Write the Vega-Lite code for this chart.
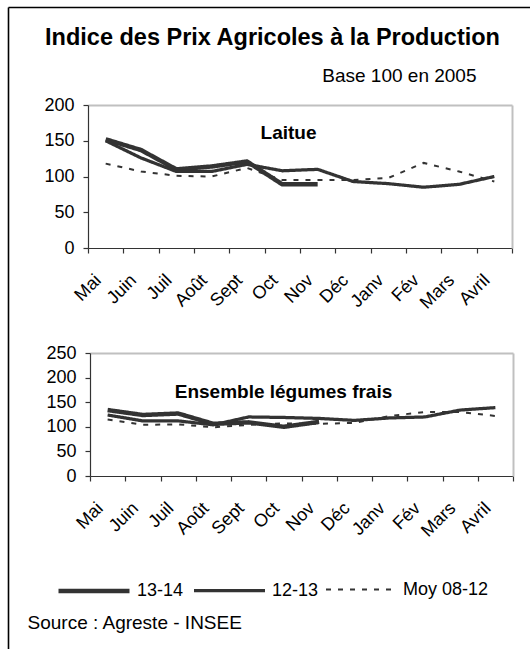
{
  "$schema": "https://vega.github.io/schema/vega-lite/v6.json",
  "width": 530,
  "height": 649,
  "padding": 0,
  "autosize": "none",
  "background": "white",
  "config": {
    "view": {"stroke": null},
    "font": "Liberation Sans",
    "axis": {"grid": false, "labelFont": "Liberation Sans", "titleFont": "Liberation Sans", "labelColor": "#000", "titleColor": "#000", "domainColor": "#333", "tickColor": "#333", "domainWidth": 1.2, "tickWidth": 1.2},
    "legend": {"labelFont": "Liberation Sans", "labelFontSize": 18, "labelColor": "#000"}
  },
  "datasets": {
    "laitue": [
      {"m": "Mai", "s": "13-14", "v": 152}, {"m": "Juin", "s": "13-14", "v": 137}, {"m": "Juil", "s": "13-14", "v": 110}, {"m": "Août", "s": "13-14", "v": 114}, {"m": "Sept", "s": "13-14", "v": 121}, {"m": "Oct", "s": "13-14", "v": 89}, {"m": "Nov", "s": "13-14", "v": 89},
      {"m": "Mai", "s": "12-13", "v": 150}, {"m": "Juin", "s": "12-13", "v": 126}, {"m": "Juil", "s": "12-13", "v": 107}, {"m": "Août", "s": "12-13", "v": 107}, {"m": "Sept", "s": "12-13", "v": 117}, {"m": "Oct", "s": "12-13", "v": 108}, {"m": "Nov", "s": "12-13", "v": 110}, {"m": "Déc", "s": "12-13", "v": 93}, {"m": "Janv", "s": "12-13", "v": 90}, {"m": "Fév", "s": "12-13", "v": 85}, {"m": "Mars", "s": "12-13", "v": 89}, {"m": "Avril", "s": "12-13", "v": 100},
      {"m": "Mai", "s": "Moy 08-12", "v": 118}, {"m": "Juin", "s": "Moy 08-12", "v": 107}, {"m": "Juil", "s": "Moy 08-12", "v": 101}, {"m": "Août", "s": "Moy 08-12", "v": 100}, {"m": "Sept", "s": "Moy 08-12", "v": 112}, {"m": "Oct", "s": "Moy 08-12", "v": 95}, {"m": "Nov", "s": "Moy 08-12", "v": 95}, {"m": "Déc", "s": "Moy 08-12", "v": 95}, {"m": "Janv", "s": "Moy 08-12", "v": 98}, {"m": "Fév", "s": "Moy 08-12", "v": 119}, {"m": "Mars", "s": "Moy 08-12", "v": 107}, {"m": "Avril", "s": "Moy 08-12", "v": 93}
    ],
    "legumes": [
      {"m": "Mai", "s": "13-14", "v": 134}, {"m": "Juin", "s": "13-14", "v": 124}, {"m": "Juil", "s": "13-14", "v": 127}, {"m": "Août", "s": "13-14", "v": 106}, {"m": "Sept", "s": "13-14", "v": 109}, {"m": "Oct", "s": "13-14", "v": 100}, {"m": "Nov", "s": "13-14", "v": 110},
      {"m": "Mai", "s": "12-13", "v": 124}, {"m": "Juin", "s": "12-13", "v": 112}, {"m": "Juil", "s": "12-13", "v": 112}, {"m": "Août", "s": "12-13", "v": 104}, {"m": "Sept", "s": "12-13", "v": 120}, {"m": "Oct", "s": "12-13", "v": 119}, {"m": "Nov", "s": "12-13", "v": 117}, {"m": "Déc", "s": "12-13", "v": 113}, {"m": "Janv", "s": "12-13", "v": 118}, {"m": "Fév", "s": "12-13", "v": 120}, {"m": "Mars", "s": "12-13", "v": 134}, {"m": "Avril", "s": "12-13", "v": 139},
      {"m": "Mai", "s": "Moy 08-12", "v": 115}, {"m": "Juin", "s": "Moy 08-12", "v": 104}, {"m": "Juil", "s": "Moy 08-12", "v": 105}, {"m": "Août", "s": "Moy 08-12", "v": 99}, {"m": "Sept", "s": "Moy 08-12", "v": 104}, {"m": "Oct", "s": "Moy 08-12", "v": 107}, {"m": "Nov", "s": "Moy 08-12", "v": 106}, {"m": "Déc", "s": "Moy 08-12", "v": 108}, {"m": "Janv", "s": "Moy 08-12", "v": 122}, {"m": "Fév", "s": "Moy 08-12", "v": 130}, {"m": "Mars", "s": "Moy 08-12", "v": 130}, {"m": "Avril", "s": "Moy 08-12", "v": 122}
    ]
  },
  "resolve": {
    "scale": {"x": "independent", "y": "independent", "strokeWidth": "shared", "strokeDash": "shared"},
    "axis": {"x": "independent", "y": "independent"}
  },
  "layer": [
    {
      "data": {"name": "laitue"},
      "mark": {"type": "line", "opacity": 0},
      "encoding": {
        "x": {"field": "m", "type": "nominal", "sort": ["Mai", "Juin", "Juil", "Août", "Sept", "Oct", "Nov", "Déc", "Janv", "Fév", "Mars", "Avril"],
          "scale": {"type": "band", "paddingInner": 0, "paddingOuter": 0, "range": [8, 531]},
          "axis": {"orient": "top", "offset": -7, "labels": false, "ticks": false, "domainColor": "#000", "domainWidth": 1.6,
            "title": "Indice des Prix Agricoles à la Production", "titleX": 272, "titleY": 30, "titleAlign": "center", "titleBaseline": "middle", "titleFontSize": 23.5, "titleFontWeight": "bold"}},
        "y": {"field": "v", "type": "quantitative",
          "scale": {"domain": [0, 200], "nice": false, "range": [650, 7]},
          "axis": {"orient": "left", "offset": -8, "labels": false, "ticks": false, "domainColor": "#000", "domainWidth": 1.6, "title": null}}
      }
    },
    {
      "data": {"name": "laitue"},
      "mark": {"type": "line", "color": "#333333"},
      "encoding": {
        "x": {"field": "m", "type": "nominal", "sort": ["Mai", "Juin", "Juil", "Août", "Sept", "Oct", "Nov", "Déc", "Janv", "Fév", "Mars", "Avril"],
          "scale": {"type": "band", "paddingInner": 0, "paddingOuter": 0, "range": [88, 512]},
          "axis": {"orient": "bottom", "offset": -401, "tickBand": "extent", "labelAngle": -45, "labelFontSize": 18, "tickSize": 5, "labelPadding": 18, "labelOffset": -14,
            "title": "Laitue", "titleX": 288, "titleY": -116, "titleAlign": "center", "titleBaseline": "middle", "titleFontSize": 19, "titleFontWeight": "bold"}},
        "y": {"field": "v", "type": "quantitative",
          "scale": {"domain": [0, 200], "nice": false, "range": [248, 105]},
          "axis": {"orient": "left", "offset": -88, "values": [0, 50, 100, 150, 200], "labelFontSize": 18, "tickSize": 5, "labelPadding": 9, "title": null}},
        "strokeWidth": {"field": "s", "type": "ordinal", "scale": {"domain": ["13-14", "12-13", "Moy 08-12"], "range": [4.5, 2, 2.2]},
          "legend": {"orient": "none", "legendX": 56, "legendY": 553, "direction": "horizontal", "gridAlign": "none", "title": null, "symbolType": "stroke", "symbolSize": 5041, "symbolStrokeColor": "#333333", "labelOffset": 5, "columnPadding": 3, "labelFontSize": 18}},
        "strokeDash": {"field": "s", "type": "nominal", "scale": {"domain": ["13-14", "12-13", "Moy 08-12"], "range": [[1, 0], [1, 0], [5, 7]]},
          "legend": {"orient": "none", "legendX": 56, "legendY": 553, "direction": "horizontal", "gridAlign": "none", "title": null, "symbolType": "stroke", "symbolSize": 5041, "symbolStrokeColor": "#333333", "labelOffset": 5, "columnPadding": 3, "labelFontSize": 18}}
      }
    },
    {
      "data": {"name": "laitue"},
      "mark": {"type": "line", "opacity": 0},
      "encoding": {
        "x": {"field": "m", "type": "nominal", "sort": ["Mai", "Juin", "Juil", "Août", "Sept", "Oct", "Nov", "Déc", "Janv", "Fév", "Mars", "Avril"],
          "scale": {"type": "band", "paddingInner": 0, "paddingOuter": 0, "range": [88, 512]},
          "axis": {"orient": "top", "offset": -105, "labels": false, "ticks": false, "domainColor": "#c0c0c0", "domainWidth": 2,
            "title": "Base 100 en 2005", "titleX": 476, "titleY": -30, "titleAlign": "right", "titleBaseline": "middle", "titleFontSize": 19, "titleFontWeight": "normal"}},
        "y": {"field": "v", "type": "quantitative",
          "scale": {"domain": [0, 200], "nice": false, "range": [248, 105]},
          "axis": {"orient": "right", "offset": -18, "labels": false, "ticks": false, "domainColor": "#c0c0c0", "domainWidth": 2, "title": null}}
      }
    },
    {
      "data": {"name": "legumes"},
      "mark": {"type": "line", "color": "#333333"},
      "encoding": {
        "x": {"field": "m", "type": "nominal", "sort": ["Mai", "Juin", "Juil", "Août", "Sept", "Oct", "Nov", "Déc", "Janv", "Fév", "Mars", "Avril"],
          "scale": {"type": "band", "paddingInner": 0, "paddingOuter": 0, "range": [90, 513]},
          "axis": {"orient": "bottom", "offset": -173, "tickBand": "extent", "labelAngle": -45, "labelFontSize": 18, "tickSize": 5, "labelPadding": 18, "labelOffset": -14,
            "title": "Source : Agreste - INSEE", "titleX": 27, "titleY": 146, "titleAlign": "left", "titleBaseline": "middle", "titleFontSize": 19, "titleFontWeight": "normal"}},
        "y": {"field": "v", "type": "quantitative",
          "scale": {"domain": [0, 250], "nice": false, "range": [476, 353]},
          "axis": {"orient": "left", "offset": -90, "values": [0, 50, 100, 150, 200, 250], "labelFontSize": 18, "tickSize": 5, "labelPadding": 9, "title": null}},
        "strokeWidth": {"field": "s", "type": "ordinal", "scale": {"domain": ["13-14", "12-13", "Moy 08-12"], "range": [4.5, 2, 2.2]}},
        "strokeDash": {"field": "s", "type": "nominal", "scale": {"domain": ["13-14", "12-13", "Moy 08-12"], "range": [[1, 0], [1, 0], [5, 7]]}}
      }
    },
    {
      "data": {"name": "legumes"},
      "mark": {"type": "line", "opacity": 0},
      "encoding": {
        "x": {"field": "m", "type": "nominal", "sort": ["Mai", "Juin", "Juil", "Août", "Sept", "Oct", "Nov", "Déc", "Janv", "Fév", "Mars", "Avril"],
          "scale": {"type": "band", "paddingInner": 0, "paddingOuter": 0, "range": [90, 513]},
          "axis": {"orient": "top", "offset": -353, "labels": false, "ticks": false, "domainColor": "#c0c0c0", "domainWidth": 2,
            "title": "Ensemble légumes frais", "titleX": 283, "titleY": 38, "titleAlign": "center", "titleBaseline": "middle", "titleFontSize": 19, "titleFontWeight": "bold"}},
        "y": {"field": "v", "type": "quantitative",
          "scale": {"domain": [0, 250], "nice": false, "range": [476, 353]},
          "axis": {"orient": "right", "offset": -17, "labels": false, "ticks": false, "domainColor": "#c0c0c0", "domainWidth": 2, "title": null}}
      }
    }
  ]
}
